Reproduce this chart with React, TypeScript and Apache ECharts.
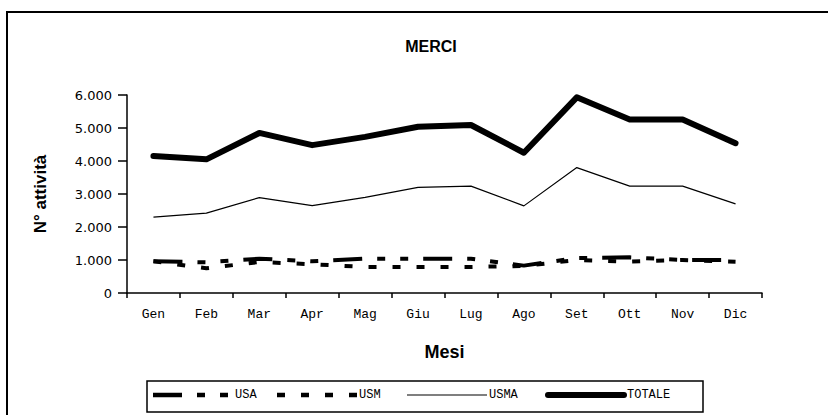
import React, { useEffect, useRef } from "react";
import * as echarts from "echarts";

const months = ["Gen", "Feb", "Mar", "Apr", "Mag", "Giu", "Lug", "Ago", "Set", "Ott", "Nov", "Dic"];
const seriesNames = ["USA", "USM", "USMA", "TOTALE"];
const usa = [960, 930, 1040, 960, 1040, 1040, 1040, 830, 1060, 1080, 1000, 1000];
const usm = [960, 750, 940, 870, 790, 790, 790, 820, 1000, 950, 1000, 950];
const usma = [2300, 2420, 2890, 2650, 2900, 3200, 3240, 2640, 3800, 3240, 3240, 2700];
const totale = [4150, 4050, 4850, 4480, 4730, 5040, 5090, 4250, 5930, 5260, 5260, 4540];

const fmt = (v: number) => {
  if (v === 0) return "0";
  const s = String(v);
  return s.replace(/\B(?=(\d{3})+(?!\d))/g, ".");
};

const USA_DASH = [29, 15, 8, 15, 8, 15];
const USM_DASH = [8, 16];

export default function App() {
  const ref = useRef<HTMLDivElement>(null);
  useEffect(() => {
    if (!ref.current) return;
    const chart = echarts.init(ref.current, null, { renderer: "svg" });
    const mono = "Liberation Mono";
    const legendFont = { fontFamily: mono, fontSize: 12, fill: "#000" };
    const ly = 395;
    const legendItems = [
      { x1: 153, x2: 233, width: 4.5, dash: USA_DASH, cap: "butt" },
      { x1: 277, x2: 357, width: 4.5, dash: USM_DASH, cap: "butt" },
      { x1: 407, x2: 487, width: 1.2, dash: null, cap: "butt" },
      { x1: 548, x2: 624, width: 6, dash: null, cap: "round" },
    ];
    const legendGraphics: any[] = [
      {
        type: "rect",
        shape: { x: 147, y: 381, width: 556, height: 31 },
        style: { fill: "#fff", stroke: "#000", lineWidth: 1.5 },
        silent: true,
      },
    ];
    legendItems.forEach((it, i) => {
      legendGraphics.push({
        type: "line",
        shape: { x1: it.x1, y1: ly, x2: it.x2, y2: ly },
        style: { stroke: "#000", lineWidth: it.width, lineDash: it.dash || undefined, lineCap: it.cap },
        silent: true,
      });
      legendGraphics.push({
        type: "text",
        x: (i === 3 ? 627 : it.x2 + 2),
        y: ly,
        style: { ...legendFont, text: seriesNames[i], verticalAlign: "middle" },
        silent: true,
      });
    });

    chart.setOption({
      animation: false,
      backgroundColor: "#fff",
      title: {
        text: "MERCI",
        left: 426,
        textAlign: "center",
        top: 33,
        textStyle: { fontFamily: "Liberation Sans", fontWeight: "bold", fontSize: 16, color: "#000" },
      },
      graphic: [
        {
          type: "rect",
          shape: { x: 7, y: 12, width: 840, height: 420 },
          style: { fill: "none", stroke: "#000", lineWidth: 2 },
          silent: true,
        },
        ...legendGraphics,
      ],
      grid: { left: 127, right: 66, top: 95, bottom: 122 },
      xAxis: {
        type: "category",
        data: months,
        boundaryGap: true,
        name: "Mesi",
        nameLocation: "middle",
        nameGap: 50,
        nameTextStyle: { fontFamily: "Liberation Sans", fontWeight: "bold", fontSize: 18, color: "#000" },
        axisLine: { lineStyle: { color: "#000", width: 1.5 } },
        axisTick: { show: true, length: 5, inside: false, lineStyle: { color: "#000", width: 1.5 } },
        axisLabel: { fontFamily: mono, fontSize: 13, color: "#000", margin: 15 },
        splitLine: { show: false },
      },
      yAxis: {
        type: "value",
        min: 0,
        max: 6000,
        interval: 1000,
        name: "N° attività",
        nameLocation: "middle",
        nameGap: 78,
        nameRotate: 90,
        nameTextStyle: { fontFamily: "Liberation Sans", fontWeight: "bold", fontSize: 17, color: "#000" },
        axisLine: { show: true, lineStyle: { color: "#000", width: 1.5 } },
        axisTick: { show: true, length: 9, lineStyle: { color: "#000", width: 1.5 } },
        axisLabel: { fontFamily: "DejaVu Sans", fontSize: 13, color: "#000", margin: 15, formatter: (v: number) => fmt(v) },
        splitLine: { show: false },
      },
      series: [
        {
          name: "USA",
          type: "line",
          data: usa,
          symbol: "none",
          color: "#000",
          lineStyle: { color: "#000", width: 4, type: USA_DASH },
        },
        {
          name: "USM",
          type: "line",
          data: usm,
          symbol: "none",
          color: "#000",
          lineStyle: { color: "#000", width: 4, type: USM_DASH },
        },
        {
          name: "USMA",
          type: "line",
          data: usma,
          symbol: "none",
          color: "#000",
          lineStyle: { color: "#000", width: 1.2 },
        },
        {
          name: "TOTALE",
          type: "line",
          data: totale,
          symbol: "none",
          color: "#000",
          lineStyle: { color: "#000", width: 6, cap: "round", join: "round" },
        },
      ],
    });
    return () => chart.dispose();
  }, []);
  return <div ref={ref} style={{ width: 828, height: 415, position: "absolute", left: 0, top: 0 }} />;
}
